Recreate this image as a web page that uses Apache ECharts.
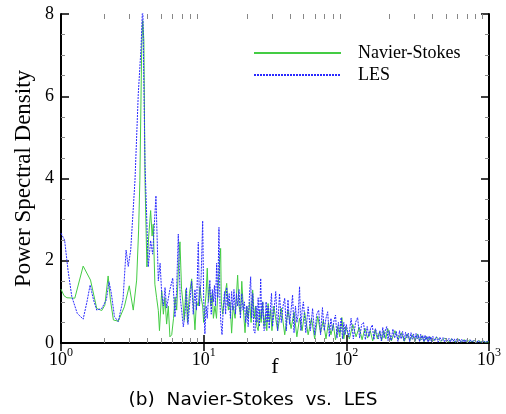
<!DOCTYPE html>
<html>
<head>
<meta charset="utf-8">
<script src="https://cdn.jsdelivr.net/npm/echarts@6/dist/echarts.min.js"></script>
<style>
html, body { margin: 0; padding: 0; background: #fff; }
#chart { width: 506px; height: 414px; }
</style>
</head>
<body>
<div id="chart"></div>
<script>
// Navier-Stokes spectrum, [f, psd]
const nsData = [
  [1.00, 1.31], [1.05, 1.15], [1.10, 1.10], [1.25, 1.09], [1.43, 1.87], [1.61, 1.53], [1.78, 0.84], [1.93, 0.79],
  [2.03, 0.92], [2.14, 1.63], [2.22, 1.05], [2.33, 0.56], [2.52, 0.53], [2.78, 0.88], [3.01, 1.39], [3.21, 0.80],
  [3.39, 1.53], [3.50, 2.75], [3.57, 3.95], [3.68, 7.20], [3.74, 7.84], [3.81, 7.35], [3.88, 3.95], [4.00, 1.85],
  [4.12, 2.60], [4.25, 3.22], [4.35, 2.60], [4.43, 2.89], [4.55, 1.43], [4.68, 1.10], [4.81, 0.79], [4.90, 0.30],
  [5.08, 1.27], [5.22, 0.70], [5.35, 1.10], [5.50, 0.46], [5.65, 0.90], [5.80, 0.15], [5.97, 0.20], [6.15, 0.60],
  [6.30, 1.12], [6.47, 0.80], [6.65, 1.80], [6.82, 2.46], [7.00, 1.30], [7.15, 1.00], [7.30, 0.55], [7.50, 1.30],
  [7.70, 0.50], [7.95, 1.20], [8.24, 1.56], [8.45, 1.00], [8.69, 0.32], [8.90, 1.00], [9.17, 0.90], [9.42, 1.37],
  [9.60, 1.10], [9.84, 0.90], [10.0, 0.50], [10.2, 0.49], [10.4, 1.20], [10.6, 1.82], [10.8, 1.00], [11.0, 1.40],
  [11.2, 0.90], [11.5, 1.20], [11.7, 0.60], [12.0, 0.90], [12.3, 0.60], [12.6, 1.30], [12.9, 1.90], [13.15, 2.30],
  [13.3, 1.00], [13.6, 0.70], [14.0, 1.10], [14.5, 1.45], [14.9, 0.80], [15.3, 1.00], [15.7, 0.24], [16.1, 0.90],
  [16.6, 0.60], [17.0, 1.20], [17.3, 1.65], [17.7, 0.90], [18.1, 0.70], [18.5, 1.50], [19.0, 0.80], [19.5, 0.25],
  [20.0, 0.90], [20.5, 0.60], [21.0, 1.00], [21.5, 0.50], [22.05, 1.29], [22.6, 0.60], [23.1, 0.90], [23.6, 0.40],
  [24.1, 0.30], [24.7, 0.80], [25.3, 0.50], [25.9, 1.00], [26.5, 0.40], [27.1, 0.70], [27.7, 0.30], [28.3, 0.96],
  [28.9, 0.50], [29.5, 0.80], [30.1, 0.30],
  [31, 0.90], [33, 0.30], [35, 0.85], [37, 0.20], [39, 0.80], [41, 0.35], [43, 0.75], [45, 0.15], [47, 0.60], [49, 0.30],
  [51, 0.75], [54, 0.20], [57, 0.60], [60, 0.10], [63, 0.65], [66, 0.25], [69, 0.55], [72, 0.10], [75, 0.50],
  [78, 0.20], [81, 0.45], [84, 0.08], [87, 0.40], [90, 0.15], [93, 0.62], [96, 0.10], [99, 0.40],
  [105, 0.10], [111, 0.45], [117, 0.15], [123, 0.38], [129, 0.08], [135, 0.36], [141, 0.12], [147, 0.30],
  [153, 0.05], [159, 0.32], [165, 0.10], [171, 0.28], [177, 0.06], [183, 0.30], [189, 0.10], [195, 0.35],
  [207, 0.05], [219, 0.30], [231, 0.08], [243, 0.25], [255, 0.04], [267, 0.22], [279, 0.06], [291, 0.20],
  [303, 0.04], [315, 0.22], [327, 0.05], [339, 0.18], [351, 0.03], [363, 0.16], [375, 0.05], [387, 0.15], [399, 0.03],
  [430, 0.14], [460, 0.04], [490, 0.12], [520, 0.03], [550, 0.10], [580, 0.02], [610, 0.09], [640, 0.03],
  [670, 0.08], [700, 0.02], [730, 0.07], [760, 0.03], [790, 0.06], [820, 0.02], [850, 0.06], [880, 0.02],
  [910, 0.05], [940, 0.02], [970, 0.05], [1000, 0.03]
]

// LES spectrum, [f, psd]
const lesData = [
  [1.00, 2.67], [1.06, 2.50], [1.12, 1.77], [1.19, 1.13], [1.30, 0.72], [1.43, 0.58], [1.52, 1.00], [1.60, 1.41],
  [1.69, 1.05], [1.78, 0.80], [1.93, 0.84], [2.08, 1.05], [2.17, 1.49], [2.25, 1.22], [2.37, 0.64], [2.52, 0.52],
  [2.72, 1.05], [2.86, 2.26], [2.96, 1.86], [3.08, 2.26], [3.30, 3.95], [3.48, 6.05], [3.64, 7.19], [3.74, 8.30],
  [3.88, 4.35], [4.09, 1.85], [4.25, 2.49], [4.39, 2.16], [4.63, 3.58], [4.81, 1.51], [4.95, 1.94], [5.08, 1.20],
  [5.22, 0.90], [5.36, 1.35], [5.50, 0.85], [5.65, 0.88], [5.80, 1.30], [6.07, 1.58], [6.29, 0.63], [6.45, 1.20],
  [6.64, 2.65], [6.85, 1.10], [7.01, 0.80], [7.20, 0.39], [7.40, 0.70], [7.58, 1.35], [7.76, 0.45], [8.00, 1.00],
  [8.24, 1.50], [8.45, 0.70], [8.69, 1.30], [8.90, 0.80], [9.17, 2.45], [9.35, 0.90], [9.60, 1.60], [9.84, 2.97],
  [10.0, 1.10], [10.2, 0.22], [10.4, 0.90], [10.6, 0.60], [10.8, 1.10], [11.05, 1.53], [11.3, 0.70], [11.5, 1.30],
  [11.7, 1.00], [11.9, 1.40], [12.1, 0.90], [12.33, 1.94], [12.55, 1.10], [12.8, 2.81], [13.0, 1.00], [13.2, 0.50],
  [13.45, 0.20], [13.7, 0.80], [14.0, 1.25], [14.25, 0.70], [14.5, 1.35], [14.8, 0.90], [15.1, 1.20], [15.4, 0.60],
  [15.7, 1.25], [16.0, 0.80], [16.3, 1.30], [16.7, 0.70], [17.0, 1.20], [17.3, 0.90], [17.7, 1.30], [18.1, 0.60],
  [18.5, 1.20], [18.9, 0.80], [19.3, 1.00], [19.7, 0.50], [20.1, 0.90], [20.5, 0.40], [20.9, 1.10], [21.35, 1.61],
  [21.7, 0.60], [22.1, 1.20], [22.5, 0.30], [22.9, 0.24], [23.3, 0.90], [23.7, 0.50], [24.1, 1.10], [24.6, 0.40],
  [25.1, 1.57], [25.5, 0.60], [26.0, 1.00], [26.5, 0.30], [26.9, 0.35], [27.4, 1.00], [27.8, 0.50], [28.3, 0.90],
  [28.8, 0.35], [29.3, 0.80], [29.9, 1.21], [30.4, 0.40],
  [31, 0.40], [32, 1.25], [33, 0.30], [34, 1.20], [35, 0.50], [36, 0.90], [37, 1.09], [38, 0.30], [39, 1.05],
  [40, 0.45], [41, 0.80], [42, 1.17], [43, 0.25], [44, 0.90], [45, 0.50], [46, 0.70], [47, 1.37], [48, 0.30],
  [49, 0.80], [50, 1.00], [52, 0.25], [54, 0.88], [56, 0.30], [58, 0.84], [60, 0.20], [62, 0.70], [64, 0.80],
  [66, 0.20], [68, 0.86], [70, 0.30], [72, 0.60], [74, 0.76], [76, 0.15], [78, 0.60], [80, 0.30], [82, 0.55],
  [84, 0.68], [86, 0.12], [88, 0.50], [90, 0.25], [92, 0.62], [94, 0.10], [96, 0.50], [98, 0.20], [100, 0.45],
  [104, 0.15], [108, 0.60], [112, 0.10], [116, 0.50], [120, 0.62], [124, 0.12], [128, 0.45], [132, 0.50],
  [136, 0.08], [140, 0.40], [144, 0.15], [148, 0.36], [152, 0.44], [156, 0.08], [160, 0.35], [164, 0.36],
  [168, 0.10], [172, 0.30], [176, 0.05], [180, 0.38], [184, 0.12], [188, 0.32], [192, 0.40], [196, 0.06],
  [200, 0.30], [206, 0.06], [212, 0.34], [218, 0.12], [224, 0.28], [230, 0.04], [236, 0.30], [242, 0.10],
  [248, 0.28], [254, 0.05], [260, 0.26], [266, 0.12], [272, 0.24], [278, 0.03], [284, 0.25], [290, 0.09],
  [296, 0.22], [302, 0.04], [308, 0.23], [314, 0.10], [320, 0.20], [326, 0.03], [332, 0.21], [338, 0.08],
  [344, 0.18], [350, 0.03], [356, 0.19], [362, 0.07], [368, 0.16], [374, 0.02], [380, 0.17], [386, 0.06],
  [392, 0.15], [398, 0.03], [404, 0.16], [416, 0.05], [428, 0.15], [440, 0.02], [452, 0.14], [464, 0.06],
  [476, 0.13], [488, 0.02], [500, 0.12], [512, 0.05], [524, 0.11], [536, 0.02], [548, 0.11], [560, 0.04],
  [572, 0.10], [584, 0.02], [596, 0.10], [608, 0.04], [620, 0.09], [632, 0.02], [644, 0.09], [656, 0.03],
  [668, 0.08], [680, 0.02], [692, 0.08], [704, 0.03], [716, 0.07], [728, 0.02], [740, 0.08], [752, 0.03],
  [764, 0.07], [776, 0.01], [788, 0.06], [800, 0.03], [812, 0.06], [824, 0.01], [836, 0.06], [848, 0.02],
  [860, 0.05], [872, 0.01], [884, 0.05], [896, 0.02], [908, 0.05], [920, 0.01], [932, 0.05], [944, 0.02],
  [956, 0.04], [968, 0.01], [980, 0.04], [992, 0.02], [1000, 0.04]
]

const seriesNames = ['Navier-Stokes', 'LES']
const xMinorTicks = [2, 3, 4, 5, 6, 7, 8, 9, 20, 30, 40, 50, 60, 70, 80, 90, 200, 300, 400, 500, 600, 700, 800, 900]

const serif = 'Liberation Serif'
const chart = echarts.init(document.getElementById('chart'))

const xAxisBase = {
  type: 'log',
  logBase: 10,
  min: 1,
  max: 1000,
  axisLine: { lineStyle: { color: '#000', width: 2 } },
  axisTick: { inside: true, length: 8, lineStyle: { color: '#000', width: 1.5 } },
  splitLine: { show: false }
}

const yAxisBase = {
  type: 'value',
  min: 0,
  max: 8,
  interval: 2,
  axisLine: { show: true, lineStyle: { color: '#000', width: 2 } },
  axisTick: { show: true, inside: true, length: 8, lineStyle: { color: '#000', width: 1.5 } },
  minorTick: { show: true, splitNumber: 4, length: 4, lineStyle: { color: '#888', width: 1 } },
  splitLine: { show: false }
}

const option = {
  animation: false,
  backgroundColor: '#fff',
  title: {
    text: '(b)  Navier-Stokes  vs.  LES',
    left: 'center',
    top: 386,
    textStyle: { fontFamily: 'DejaVu Sans', fontSize: 18.5, fontWeight: 'normal', color: '#000' }
  },
  legend: {
    data: seriesNames,
    orient: 'vertical',
    left: 253,
    top: 44,
    padding: 0,
    itemWidth: 87,
    itemHeight: 12,
    itemGap: 4,
    itemStyle: { opacity: 0 },
    textStyle: { fontFamily: serif, fontSize: 18, color: '#000', padding: [0, 0, 0, 12] }
  },
  grid: { left: 61, right: 17, top: 14, bottom: 71 },
  xAxis: [
    Object.assign({}, xAxisBase, {
      position: 'bottom',
      name: 'f',
      nameLocation: 'middle',
      nameGap: 13,
      nameMoveOverlap: false,
      nameTextStyle: { fontFamily: serif, fontSize: 22, color: '#000' },
      axisLabel: {
        margin: 4,
        color: '#000',
        formatter: v => '{b|10}{s|' + Math.round(Math.log10(v)) + '}',
        rich: {
          b: { fontFamily: serif, fontSize: 18, color: '#000', lineHeight: 22, verticalAlign: 'bottom' },
          s: { fontFamily: serif, fontSize: 12, color: '#000', lineHeight: 12, verticalAlign: 'top' }
        }
      }
    }),
    Object.assign({}, xAxisBase, { position: 'top', axisLabel: { show: false } })
  ],
  yAxis: [
    Object.assign({}, yAxisBase, {
      position: 'left',
      name: 'Power Spectral Density',
      nameLocation: 'middle',
      nameGap: 26,
      nameMoveOverlap: false,
      nameTextStyle: { fontFamily: serif, fontSize: 23, color: '#000' },
      axisLabel: { margin: 7, fontFamily: serif, fontSize: 18, color: '#000' }
    }),
    Object.assign({}, yAxisBase, { position: 'right', axisLabel: { show: false } })
  ],
  series: [
    {
      name: seriesNames[0],
      type: 'line',
      data: nsData,
      symbol: 'none',
      lineStyle: { color: '#44cc44', width: 1 },
      itemStyle: { color: '#44cc44' }
    },
    {
      name: seriesNames[1],
      type: 'line',
      data: lesData,
      symbol: 'none',
      lineStyle: { color: '#2a2aff', width: 1, type: [2, 1] },
      itemStyle: { color: '#2a2aff' }
    },
    {
      type: 'custom',
      silent: true,
      z: 5,
      data: xMinorTicks.map(v => [v, 0]),
      renderItem: (params, api) => {
        const x = Math.round(api.coord([api.value(0), 0])[0]) + 0.5
        const cs = params.coordSys
        const st = { stroke: '#888', lineWidth: 1 }
        return {
          type: 'group',
          children: [
            { type: 'line', shape: { x1: x, y1: cs.y + cs.height, x2: x, y2: cs.y + cs.height - 5 }, style: st },
            { type: 'line', shape: { x1: x, y1: cs.y, x2: x, y2: cs.y + 5 }, style: st }
          ]
        }
      }
    }
  ]
}

chart.setOption(option)
</script>
</body>
</html>
